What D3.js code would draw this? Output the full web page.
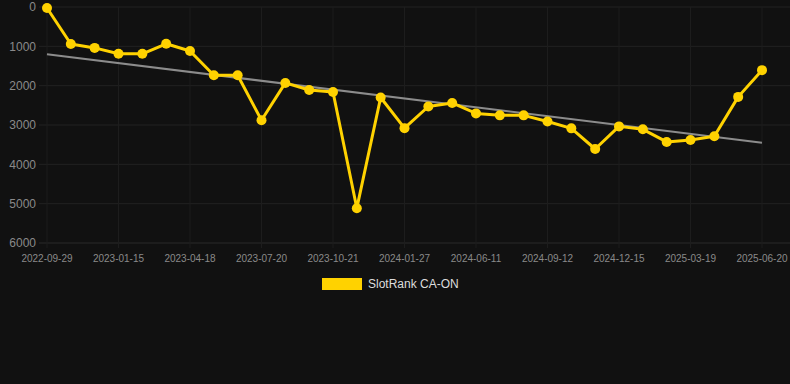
<!DOCTYPE html>
<html>
<head>
<meta charset="utf-8">
<script src="https://cdn.jsdelivr.net/npm/d3@7"></script>
<style>
  body { margin: 0; background: #111111; }
  svg { display: block; font-family: "Liberation Sans", Arial, sans-serif; }
</style>
</head>
<body>
<script>
// dates of each point (only every third one is labelled)
var dates = ["2022-09-29", "2022-11-04", "2022-12-10", "2023-01-15", "2023-02-15", "2023-03-18",
  "2023-04-18", "2023-05-19", "2023-06-19", "2023-07-20", "2023-08-20", "2023-09-20",
  "2023-10-21", "2023-11-22", "2023-12-25", "2024-01-27", "2024-03-12", "2024-04-26",
  "2024-06-11", "2024-07-12", "2024-08-12", "2024-09-12", "2024-10-13", "2024-11-14",
  "2024-12-15", "2025-01-15", "2025-02-16", "2025-03-19", "2025-04-19", "2025-05-20",
  "2025-06-20"];
var ranks = [25, 940, 1040, 1190, 1190, 935, 1120, 1735, 1735, 2880, 1930, 2110, 2160, 5115,
  2300, 3080, 2530, 2440, 2705, 2755, 2755, 2910, 3085, 3610, 3035, 3110, 3430, 3380, 3285,
  2285, 1605];
var yTicks = [0, 1000, 2000, 3000, 4000, 5000, 6000];
var seriesName = "SlotRank CA-ON";

var W = 790, H = 384;
var margin = {top: 7, right: 28, bottom: 141, left: 47};
var width = W - margin.left - margin.right,
    height = H - margin.top - margin.bottom;

var svg = d3.select("body").append("svg")
  .attr("width", W)
  .attr("height", H);

var g = svg.append("g")
  .attr("transform", "translate(" + margin.left + "," + margin.top + ")");

var xScale = d3.scalePoint()
  .domain(dates)
  .range([0, width]);

var yScale = d3.scaleLinear()
  .domain([0, 6000])
  .range([0, height]); // reversed: rank 0 at the top

var labelled = dates.filter(function(d, i) { return i % 3 == 0; });

// grid
g.append("g").selectAll("line")
  .data(yTicks)
  .enter().append("line")
    .attr("x1", -8).attr("x2", width + margin.right)
    .attr("y1", function(d) { return yScale(d); })
    .attr("y2", function(d) { return yScale(d); })
    .attr("stroke", function(d) { return d == 6000 ? "#2a2a2a" : "#222222"; })
    .attr("stroke-width", 1);
g.append("g").selectAll("line")
  .data(labelled)
  .enter().append("line")
    .attr("x1", function(d) { return xScale(d); })
    .attr("x2", function(d) { return xScale(d); })
    .attr("y1", 0).attr("y2", height + 5)
    .attr("stroke", "#1d1d1d")
    .attr("stroke-width", 1);

// y labels
g.append("g").selectAll("text")
  .data(yTicks)
  .enter().append("text")
    .attr("x", -11)
    .attr("y", function(d) { return yScale(d); })
    .attr("dy", "0.35em")
    .attr("text-anchor", "end")
    .attr("fill", "#8a8a8a")
    .style("font-size", "12px")
    .text(function(d) { return d; });

// x labels
g.append("g").selectAll("text")
  .data(labelled)
  .enter().append("text")
    .attr("x", function(d) { return xScale(d); })
    .attr("y", height + 19)
    .attr("text-anchor", "middle")
    .attr("fill", "#8a8a8a")
    .style("font-size", "10px")
    .text(function(d) { return d; });

// trend line (least squares against time)
var parse = d3.timeParse("%Y-%m-%d");
var t = dates.map(function(d) { return +parse(d) / 864e5; });
var mx = d3.mean(t), my = d3.mean(ranks);
var sxy = d3.sum(ranks, function(d, i) { return (t[i] - mx) * (d - my); }),
    sxx = d3.sum(t, function(d) { return (d - mx) * (d - mx); });
var slope = sxy / sxx, icpt = my - slope * mx;
var n = ranks.length;
var trend = [0, n - 1].map(function(i) { return {date: dates[i], v: icpt + slope * t[i]}; });

g.append("path")
  .datum(trend)
  .attr("fill", "none")
  .attr("stroke", "#8c8c8c")
  .attr("stroke-width", 2)
  .attr("d", d3.line()
    .x(function(d) { return xScale(d.date); })
    .y(function(d) { return yScale(d.v); }));

// series
var line = d3.line()
  .x(function(d, i) { return xScale(dates[i]); })
  .y(function(d) { return yScale(d); });

g.append("path")
  .datum(ranks)
  .attr("fill", "none")
  .attr("stroke", "#ffd200")
  .attr("stroke-width", 3)
  .attr("stroke-linejoin", "round")
  .attr("d", line);

g.selectAll(".dot")
  .data(ranks)
  .enter().append("circle")
    .attr("class", "dot")
    .attr("cx", function(d, i) { return xScale(dates[i]); })
    .attr("cy", function(d) { return yScale(d); })
    .attr("r", 5)
    .attr("fill", "#ffd200");

// legend
var legend = svg.append("g").attr("transform", "translate(322,278)");
legend.append("rect")
  .attr("width", 40).attr("height", 12)
  .attr("fill", "#ffd200");
legend.append("text")
  .attr("x", 46).attr("y", 6)
  .attr("dy", "0.35em")
  .attr("fill", "#dddddd")
  .style("font-size", "12px")
  .text(seriesName);
</script>
</body>
</html>
